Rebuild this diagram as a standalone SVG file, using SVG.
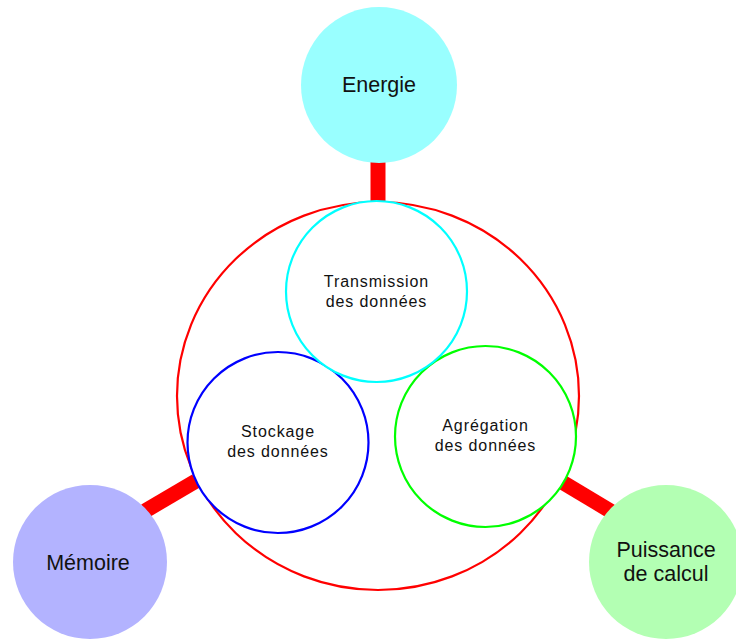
<svg xmlns="http://www.w3.org/2000/svg" width="736" height="639" viewBox="0 0 736 639">
<style>
.lbl{font-family:"Liberation Sans",Arial,sans-serif;fill:#111;text-anchor:middle}
.big{font-size:21.5px}
.small{font-size:16px;letter-spacing:0.9px}
.inner{fill:#fff;stroke-width:2.2}
.link{stroke:#ff0000;stroke-width:15;fill:none}
</style>
<rect width="736" height="639" fill="#fff"/>
<g id="system">
<ellipse cx="378" cy="396" rx="201" ry="194" fill="none" stroke="#ff0000" stroke-width="2.2"/>
</g>
<g id="connectors">
<line class="link" x1="378" y1="158" x2="378" y2="201"/>
<line class="link" x1="145" y1="511" x2="196" y2="481"/>
<line class="link" x1="562" y1="482" x2="612" y2="512"/>
</g>
<g id="stockage">
<circle class="inner" cx="278" cy="442.5" r="90.5" stroke="#0000ff"/>
<text class="lbl small" x="278" y="437">Stockage</text>
<text class="lbl small" x="278" y="457">des données</text>
</g>
<g id="agregation">
<circle class="inner" cx="485.5" cy="436.5" r="90.5" stroke="#00ff00"/>
<text class="lbl small" x="485.5" y="431">Agrégation</text>
<text class="lbl small" x="485.5" y="451">des données</text>
</g>
<g id="transmission">
<circle class="inner" cx="376.5" cy="291.5" r="90.5" stroke="#00ffff"/>
<text class="lbl small" x="376.5" y="287">Transmission</text>
<text class="lbl small" x="376.5" y="307">des données</text>
</g>
<g id="energie">
<circle cx="379" cy="85" r="78" fill="#99ffff"/>
<text class="lbl big" x="379" y="92">Energie</text>
</g>
<g id="memoire">
<circle cx="90" cy="562" r="77" fill="#b3b3ff"/>
<text class="lbl big" x="88" y="570">Mémoire</text>
</g>
<g id="puissance">
<circle cx="666" cy="562" r="77" fill="#b3ffb3"/>
<text class="lbl big" x="666" y="557">Puissance</text>
<text class="lbl big" x="666" y="581">de calcul</text>
</g>
</svg>
